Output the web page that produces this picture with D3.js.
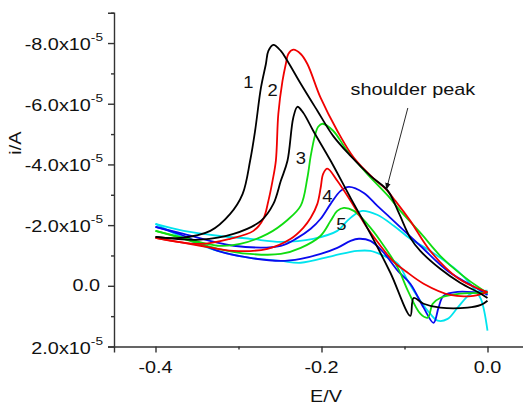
<!DOCTYPE html>
<html><head><meta charset="utf-8">
<script src="https://cdn.jsdelivr.net/npm/d3@7"></script>
<style>
body{margin:0;background:#fff}
svg{display:block}
text{font-family:"Liberation Sans",Arial,Helvetica,sans-serif;fill:#111}
</style>
</head><body>
<svg id="chart" width="523" height="406"></svg>
<script>
// ---- data: [E (V), i (x1e-5 A)] ----
const curve1Black = [[-0.400,-1.61],[-0.370,-1.58],[-0.334,-1.81],[-0.310,-2.37],[-0.295,-3.03],[-0.286,-4.12],[-0.280,-5.11],[-0.273,-6.52],[-0.267,-7.31],[-0.264,-7.74],[-0.258,-7.94],[-0.249,-7.74],[-0.241,-7.41],[-0.225,-6.66],[-0.205,-5.77],[-0.186,-4.94],[-0.165,-4.28],[-0.141,-3.62],[-0.120,-3.13],[-0.107,-2.41],[-0.093,-1.58],[-0.081,-1.15],[-0.057,-0.56],[-0.033,-0.10],[-0.008,0.26],[0.000,0.40]];
const curve2Red = [[-0.400,-1.58],[-0.346,-1.38],[-0.310,-1.55],[-0.282,-1.81],[-0.270,-2.21],[-0.264,-2.80],[-0.259,-3.46],[-0.255,-4.12],[-0.252,-5.67],[-0.247,-6.75],[-0.243,-7.31],[-0.240,-7.64],[-0.234,-7.78],[-0.225,-7.64],[-0.217,-7.31],[-0.201,-6.19],[-0.181,-5.11],[-0.161,-4.22],[-0.137,-3.53],[-0.123,-3.20],[-0.111,-2.80],[-0.093,-2.14],[-0.069,-1.15],[-0.036,-0.26],[-0.005,0.16],[0.000,0.20]];
const curve3Black = [[-0.400,-1.61],[-0.346,-1.52],[-0.306,-1.71],[-0.273,-2.14],[-0.258,-2.70],[-0.249,-3.46],[-0.241,-4.12],[-0.234,-5.54],[-0.229,-5.90],[-0.222,-5.70],[-0.210,-5.11],[-0.189,-4.12],[-0.165,-2.90],[-0.141,-1.71],[-0.117,-0.43],[-0.093,0.99],[-0.089,0.40],[-0.077,0.59],[-0.057,0.72],[-0.024,0.72],[-0.008,0.63],[0.000,0.49]];
const curve3Green = [[-0.400,-1.81],[-0.366,-1.58],[-0.325,-1.32],[-0.298,-1.38],[-0.265,-1.71],[-0.241,-2.17],[-0.225,-2.64],[-0.217,-3.56],[-0.213,-4.28],[-0.208,-4.94],[-0.204,-5.24],[-0.199,-5.34],[-0.186,-5.11],[-0.169,-4.45],[-0.145,-3.69],[-0.120,-2.97],[-0.105,-2.47],[-0.081,-1.75],[-0.057,-0.99],[-0.033,-0.40],[-0.008,0.10],[0.000,0.23]];
const curve4Red = [[-0.400,-1.58],[-0.346,-1.32],[-0.306,-1.15],[-0.265,-1.22],[-0.237,-1.55],[-0.222,-1.91],[-0.213,-2.24],[-0.205,-2.70],[-0.201,-3.23],[-0.198,-3.69],[-0.193,-3.86],[-0.181,-3.46],[-0.165,-2.80],[-0.145,-1.91],[-0.129,-1.32],[-0.113,-0.79],[-0.099,-0.49],[-0.077,-0.07],[-0.045,0.30],[-0.017,0.33],[0.000,0.20]];
const curve4Blue = [[-0.400,-1.94],[-0.366,-1.71],[-0.306,-1.32],[-0.249,-1.32],[-0.229,-1.58],[-0.213,-1.88],[-0.201,-2.21],[-0.189,-2.70],[-0.177,-3.13],[-0.167,-3.26],[-0.149,-3.06],[-0.133,-2.64],[-0.117,-2.24],[-0.081,-1.32],[-0.048,-0.49],[-0.008,0.16],[0.000,0.30]];
const curve5Green = [[-0.400,-1.81],[-0.366,-1.55],[-0.325,-1.22],[-0.286,-1.05],[-0.249,-1.05],[-0.225,-1.25],[-0.201,-1.65],[-0.189,-2.14],[-0.181,-2.47],[-0.173,-2.57],[-0.161,-2.47],[-0.145,-2.04],[-0.129,-1.48],[-0.108,-0.59],[-0.096,0.16],[-0.081,0.92],[-0.072,1.05],[-0.066,0.59],[-0.057,0.40],[-0.033,0.26],[0.000,0.23]];
const curve5Cyan = [[-0.400,-2.04],[-0.366,-1.81],[-0.325,-1.65],[-0.286,-1.55],[-0.249,-1.45],[-0.210,-1.55],[-0.181,-1.81],[-0.169,-2.14],[-0.159,-2.37],[-0.151,-2.47],[-0.133,-2.34],[-0.113,-1.98],[-0.093,-1.55],[-0.069,-1.15],[-0.036,-0.49],[-0.017,0.07],[-0.008,0.43],[0.000,1.48]];
const curve6Blue = [[-0.400,-1.94],[-0.366,-1.65],[-0.325,-1.15],[-0.286,-0.92],[-0.249,-0.82],[-0.225,-0.89],[-0.201,-1.05],[-0.181,-1.25],[-0.165,-1.48],[-0.155,-1.55],[-0.141,-1.48],[-0.125,-1.09],[-0.108,-0.49],[-0.093,-0.07],[-0.077,0.72],[-0.065,1.22],[-0.059,0.72],[-0.053,0.33],[-0.036,0.20],[0.000,0.26]];
const curve6Cyan = [[-0.400,-2.04],[-0.366,-1.58],[-0.325,-1.15],[-0.286,-0.92],[-0.249,-0.82],[-0.225,-0.76],[-0.186,-0.99],[-0.157,-1.15],[-0.141,-1.15],[-0.125,-0.99],[-0.108,-0.72],[-0.096,-0.16],[-0.081,0.49],[-0.069,0.92],[-0.060,1.15],[-0.048,1.09],[-0.036,0.72],[-0.020,0.26],[0.000,0.16]];

const xMajorTicks = [-0.4, -0.2, 0.0];
const xMinorTicks = [-0.3, -0.1];
const yMajorTicks = [-8, -6, -4, -2, 0, 2];
const yMinorTicks = [-9, -7, -5, -3, -1, 1];
const curveLabels = ["1", "2", "3", "4", "5"];
const curveLabelPos = [[-0.288,-6.52],[-0.259,-6.26],[-0.225,-4.02],[-0.193,-2.77],[-0.176,-1.85]];
const annotationText = "shoulder peak";
const annotationPos = [-0.165, -6.29];
const arrowFrom = [-0.096, -5.86];
const arrowTo = [-0.122, -3.16];

const series = [
  {data: curve6Cyan, color: "#00e4ee"},
  {data: curve5Cyan, color: "#00e4ee"},
  {data: curve6Blue, color: "#0a0aee"},
  {data: curve4Blue, color: "#0a0aee"},
  {data: curve5Green, color: "#10dc10"},
  {data: curve3Green, color: "#10dc10"},
  {data: curve4Red, color: "#f00000"},
  {data: curve2Red, color: "#f00000"},
  {data: curve3Black, color: "#000000"},
  {data: curve1Black, color: "#000000"}
];

// ---- chart ----
const svg = d3.select("#chart");
const x = d3.scaleLinear().domain([-0.45, 0.05]).range([114, 529]);
const y = d3.scaleLinear().domain([-9, 2]).range([12.7, 346.5]);
const SX = 1.24;
const axisColor = "#333";

const line = d3.line().x(d => x(d[0])).y(d => y(d[1])).curve(d3.curveCatmullRom.alpha(0.5));

svg.append("g").selectAll("path").data(series).join("path")
  .attr("d", d => line(d.data))
  .attr("fill", "none")
  .attr("stroke", d => d.color)
  .attr("stroke-width", 1.8)
  .attr("stroke-linejoin", "round");

// x axis
const gx = svg.append("g").attr("transform", `translate(0,${y(2)})`);
gx.call(d3.axisBottom(x).tickValues(xMajorTicks).tickSize(6).tickFormat(""));
gx.append("g").call(d3.axisBottom(x).tickValues(xMinorTicks).tickSize(3).tickFormat(""))
  .call(g => g.select(".domain").remove());
gx.selectAll("path,line").attr("stroke", axisColor).attr("stroke-width", 1.4);

xMajorTicks.forEach(v => {
  svg.append("text")
    .attr("transform", `translate(${x(v)},373) scale(${SX},1)`)
    .attr("text-anchor", "middle")
    .attr("font-size", 16)
    .text(v.toFixed(1));
});

// y axis
const gy = svg.append("g").attr("transform", `translate(${x(-0.45)},0)`);
gy.call(d3.axisLeft(y).tickValues(yMajorTicks).tickSize(6).tickFormat(""));
gy.append("g").call(d3.axisLeft(y).tickValues(yMinorTicks).tickSize(3).tickFormat(""))
  .call(g => g.select(".domain").remove());
gy.selectAll("path,line").attr("stroke", axisColor).attr("stroke-width", 1.4);

yMajorTicks.forEach(v => {
  const t = svg.append("text")
    .attr("font-size", 16)
    .attr("text-anchor", "end");
  if (v === 0) {
    t.attr("transform", `translate(100,${y(v) + 5}) scale(${SX},1)`).text("0.0");
  } else {
    t.attr("transform", `translate(103,${y(v) + 7}) scale(${SX},1)`);
    t.append("tspan").text(v.toFixed(1) + "x10");
    t.append("tspan").attr("font-size", 11).attr("dy", -9).text("-5");
  }
});

// axis titles
svg.append("text")
  .attr("transform", `translate(21,143) rotate(-90) scale(1.25,1)`)
  .attr("text-anchor", "middle")
  .attr("font-size", 16)
  .text("i/A");
svg.append("text")
  .attr("transform", `translate(326,402) scale(${SX},1)`)
  .attr("text-anchor", "middle")
  .attr("font-size", 16)
  .text("E/V");

// curve labels
curveLabels.forEach((s, i) => {
  svg.append("text")
    .attr("transform", `translate(${x(curveLabelPos[i][0])},${y(curveLabelPos[i][1])}) scale(1.15,1)`)
    .attr("text-anchor", "middle")
    .attr("font-size", 16)
    .text(s);
});

// annotation
svg.append("text")
  .attr("transform", `translate(${x(annotationPos[0])},${y(annotationPos[1])}) scale(${SX},1)`)
  .attr("font-size", 16)
  .text(annotationText);

svg.append("defs").append("marker")
  .attr("id", "arr").attr("viewBox", "0 0 10 10")
  .attr("refX", 10).attr("refY", 5)
  .attr("markerWidth", 7).attr("markerHeight", 7)
  .attr("markerUnits", "userSpaceOnUse")
  .attr("orient", "auto")
  .append("path").attr("d", "M0,1 L10,5 L0,9 Z").attr("fill", "#111");

svg.append("line")
  .attr("x1", x(arrowFrom[0])).attr("y1", y(arrowFrom[1]))
  .attr("x2", x(arrowTo[0])).attr("y2", y(arrowTo[1]))
  .attr("stroke", "#111").attr("stroke-width", 0.9)
  .attr("marker-end", "url(#arr)");
</script>
</body></html>
